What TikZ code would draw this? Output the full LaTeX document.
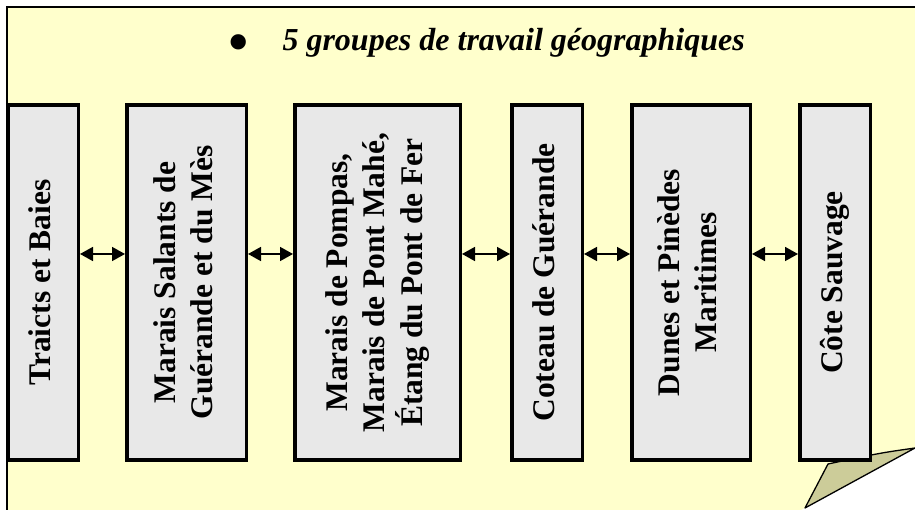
\documentclass[tikz,border=0pt]{standalone}
\usepackage{fontspec}
\setmainfont{Liberation Serif}
\usepackage{graphicx}
\usepackage{xcolor}
\usetikzlibrary{arrows.meta}

\definecolor{notejaune}{HTML}{FFFFCC}
\definecolor{pli}{HTML}{CCCC99}
\definecolor{gris}{HTML}{E8E8E8}

\tikzset{
  zone/.style={draw, line width=3.5pt, fill=gris, minimum height=355pt, inner sep=0pt,
    font=\bfseries\fontsize{31.5}{37}\selectfont},
  lien/.style={{Triangle[length=13pt,width=14pt]}-{Triangle[length=13pt,width=14pt]}, line width=1.6pt}
}
\newcommand{\debout}[1]{\rotatebox{90}{\begin{tabular}{@{}c@{}}#1\end{tabular}}}

\begin{document}
\begin{tikzpicture}[x=1pt,y=1pt]
      \useasboundingbox (0,0) rectangle (915,510);
      \def\yb{227.5}

      % Fond
      \fill[notejaune] (7,0) -- (7,503) -- (915,503) -- (915,62) -- (801,0) -- cycle;
      \draw[line width=2pt] (7,0) -- (7,503) -- (915,503);
      \filldraw[fill=pli, line width=1.3pt, line join=round]
        (915,62) .. controls (880,57) .. (828,46) -- (805,2) -- cycle;

      % Titre
      \node[inner sep=0pt] (puce) at (239,461) {\fontsize{64}{64}\selectfont\textbullet};
      \node[anchor=base west, font=\bfseries\itshape\fontsize{32}{38}\selectfont] (titre)
        at (279,459) {5 groupes de travail géographiques};

      % Groupes
      \node[zone, minimum width=70.5pt] (traicts) at (43,\yb) {\debout{Traicts et Baies}};
      \node[zone, minimum width=119.5pt] (salants) at (186.5,\yb)
        {\debout{Marais Salants de\\Guérande et du Mès}};
      \node[zone, minimum width=165.5pt] (pompas) at (377.5,\yb)
        {\debout{Marais de Pompas,\\Marais de Pont Mahé,\\Étang du Pont de Fer}};
      \node[zone, minimum width=70.5pt] (coteau) at (547,\yb) {\debout{Coteau de Guérande}};
      \node[zone, minimum width=118.5pt] (dunes) at (691,\yb)
        {\debout{Dunes et Pinèdes\\Maritimes}};
      \node[zone, minimum width=70.5pt] (cote) at (835,\yb) {\debout{Côte Sauvage}};

      % Liens
      \coordinate (ya) at (0,256);
      \foreach \a/\b in {traicts/salants, salants/pompas, pompas/coteau, coteau/dunes, dunes/cote}
        \draw[lien] (\a.east |- ya) -- (\b.west |- ya);
    \end{tikzpicture}
\end{document}
